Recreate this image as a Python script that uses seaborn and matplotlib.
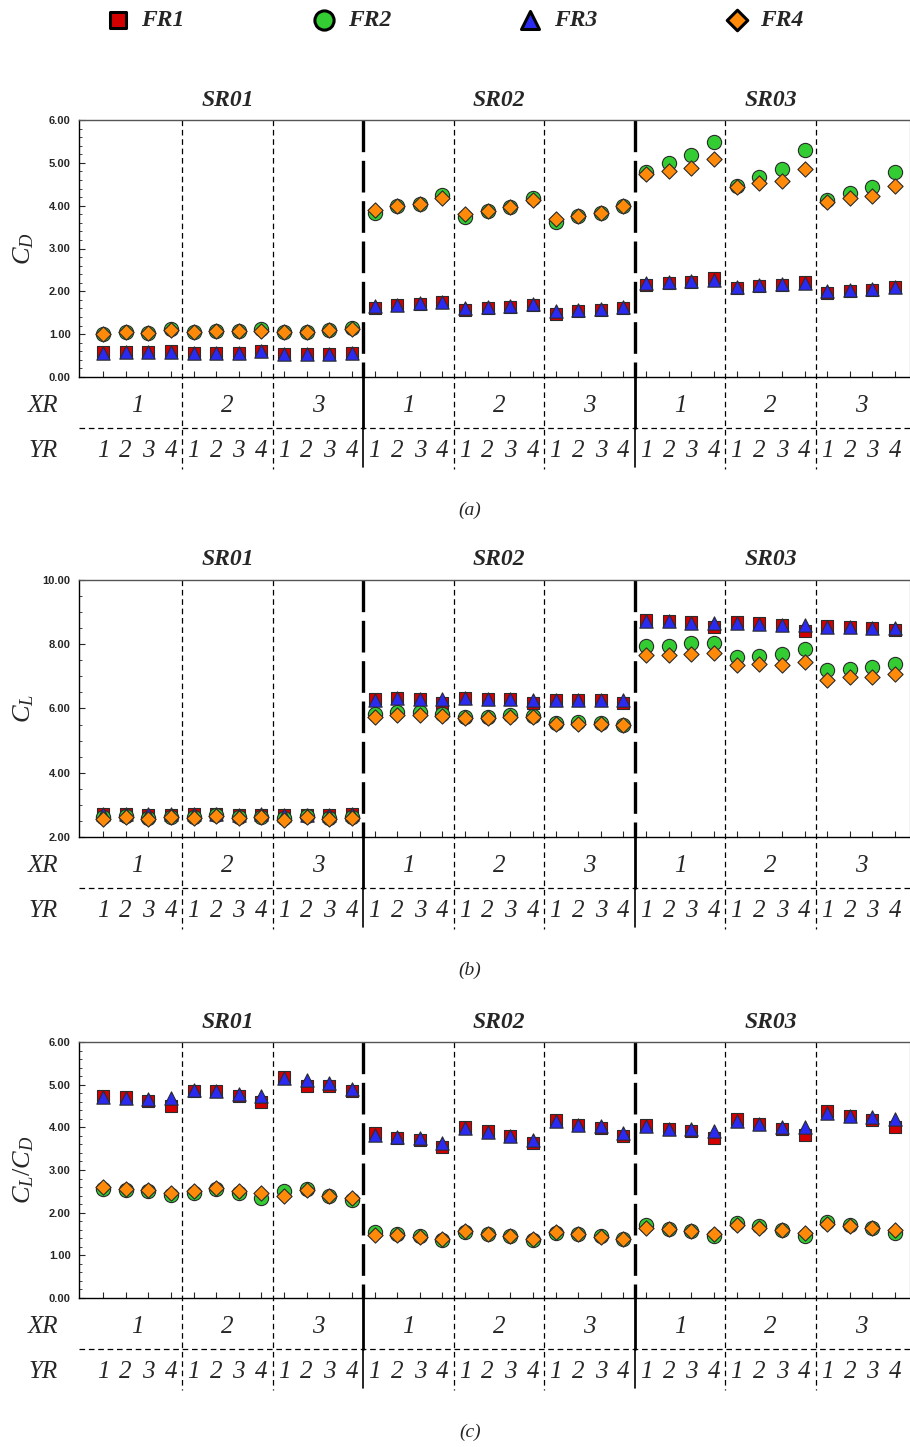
import numpy as np
import pandas as pd
import matplotlib
matplotlib.use("Agg")
import matplotlib.pyplot as plt
import seaborn as sns
from matplotlib import transforms
from matplotlib.ticker import MultipleLocator, FormatStrFormatter
from matplotlib.lines import Line2D

# ---------------- data ----------------
SR_LABELS = ["SR01", "SR02", "SR03"]
XR_LABELS = ["1", "2", "3"]
YR_LABELS = ["1", "2", "3", "4"]
FR_LABELS = ["FR1", "FR2", "FR3", "FR4"]

CD_FR1 = [0.58, 0.58, 0.58, 0.60, 0.56, 0.56, 0.57, 0.61, 0.53, 0.53, 0.53, 0.55,
          1.62, 1.68, 1.71, 1.76, 1.56, 1.61, 1.64, 1.69, 1.48, 1.54, 1.57, 1.62,
          2.15, 2.20, 2.22, 2.30, 2.08, 2.12, 2.14, 2.21, 1.96, 2.01, 2.04, 2.10]
CD_FR2 = [1.01, 1.05, 1.03, 1.12, 1.05, 1.07, 1.08, 1.13, 1.04, 1.04, 1.09, 1.15,
          3.84, 3.99, 4.04, 4.26, 3.73, 3.87, 3.97, 4.19, 3.61, 3.76, 3.84, 3.99,
          4.79, 4.99, 5.18, 5.49, 4.46, 4.68, 4.86, 5.30, 4.13, 4.29, 4.44, 4.79]
CD_FR3 = [0.57, 0.58, 0.58, 0.59, 0.56, 0.56, 0.57, 0.60, 0.53, 0.53, 0.53, 0.55,
          1.66, 1.69, 1.72, 1.76, 1.60, 1.63, 1.66, 1.70, 1.53, 1.56, 1.58, 1.64,
          2.19, 2.21, 2.23, 2.27, 2.11, 2.14, 2.16, 2.20, 2.00, 2.02, 2.06, 2.11]
CD_FR4 = [1.01, 1.05, 1.03, 1.09, 1.05, 1.07, 1.08, 1.08, 1.04, 1.04, 1.09, 1.11,
          3.90, 3.99, 4.04, 4.19, 3.80, 3.87, 3.97, 4.13, 3.69, 3.76, 3.84, 3.99,
          4.74, 4.81, 4.89, 5.09, 4.43, 4.54, 4.58, 4.85, 4.09, 4.17, 4.22, 4.47]

CL_FR1 = [2.71, 2.71, 2.70, 2.70, 2.71, 2.71, 2.70, 2.70, 2.70, 2.70, 2.68, 2.71,
          6.31, 6.33, 6.31, 6.18, 6.33, 6.29, 6.31, 6.18, 6.28, 6.28, 6.26, 6.16,
          8.75, 8.72, 8.68, 8.55, 8.70, 8.65, 8.60, 8.42, 8.57, 8.55, 8.52, 8.44]
CL_FR2 = [2.62, 2.64, 2.60, 2.62, 2.62, 2.67, 2.62, 2.62, 2.60, 2.64, 2.60, 2.62,
          5.84, 5.90, 5.90, 5.82, 5.74, 5.74, 5.79, 5.76, 5.55, 5.58, 5.55, 5.48,
          7.94, 7.95, 8.03, 8.03, 7.59, 7.63, 7.71, 7.84, 7.19, 7.23, 7.28, 7.37]
CL_FR3 = [2.71, 2.71, 2.72, 2.73, 2.71, 2.71, 2.70, 2.72, 2.68, 2.70, 2.68, 2.73,
          6.28, 6.33, 6.30, 6.30, 6.33, 6.29, 6.31, 6.28, 6.26, 6.26, 6.26, 6.26,
          8.72, 8.71, 8.67, 8.65, 8.67, 8.64, 8.60, 8.60, 8.55, 8.54, 8.52, 8.52]
CL_FR4 = [2.57, 2.62, 2.56, 2.62, 2.59, 2.66, 2.60, 2.62, 2.52, 2.62, 2.56, 2.60,
          5.74, 5.79, 5.79, 5.76, 5.69, 5.69, 5.74, 5.72, 5.51, 5.53, 5.51, 5.48,
          7.66, 7.68, 7.71, 7.73, 7.35, 7.37, 7.35, 7.45, 6.90, 6.97, 6.97, 7.07]

LD_FR1 = [4.74, 4.70, 4.61, 4.51, 4.86, 4.84, 4.74, 4.59, 5.17, 4.98, 4.96, 4.84,
          3.86, 3.75, 3.71, 3.54, 4.01, 3.91, 3.79, 3.63, 4.18, 4.06, 3.98, 3.80,
          4.06, 3.96, 3.91, 3.75, 4.20, 4.08, 3.97, 3.83, 4.38, 4.26, 4.18, 4.00]
LD_FR2 = [2.55, 2.54, 2.50, 2.42, 2.46, 2.55, 2.46, 2.34, 2.50, 2.55, 2.38, 2.30,
          1.54, 1.51, 1.45, 1.37, 1.54, 1.51, 1.45, 1.35, 1.52, 1.51, 1.45, 1.38,
          1.70, 1.62, 1.58, 1.45, 1.76, 1.68, 1.60, 1.46, 1.78, 1.70, 1.64, 1.52]
LD_FR3 = [4.70, 4.69, 4.66, 4.69, 4.88, 4.84, 4.77, 4.73, 5.15, 5.10, 5.05, 4.91,
          3.83, 3.77, 3.75, 3.63, 3.98, 3.90, 3.80, 3.71, 4.16, 4.06, 4.02, 3.87,
          4.02, 3.96, 3.95, 3.91, 4.14, 4.08, 4.01, 4.00, 4.34, 4.27, 4.24, 4.20]
LD_FR4 = [2.60, 2.56, 2.54, 2.46, 2.50, 2.58, 2.50, 2.45, 2.38, 2.52, 2.40, 2.34,
          1.48, 1.48, 1.44, 1.38, 1.56, 1.49, 1.46, 1.38, 1.54, 1.50, 1.43, 1.38,
          1.64, 1.62, 1.58, 1.51, 1.70, 1.63, 1.60, 1.52, 1.74, 1.68, 1.64, 1.59]

PANEL_SERIES = [
    [CD_FR1, CD_FR2, CD_FR3, CD_FR4],
    [CL_FR1, CL_FR2, CL_FR3, CL_FR4],
    [LD_FR1, LD_FR2, LD_FR3, LD_FR4],
]
PANEL_YLABELS = ["$C_D$", "$C_L$", "$C_L/C_D$"]
PANEL_CAPTIONS = ["(a)", "(b)", "(c)"]
PANEL_YLIMS = [(0, 6), (2, 10), (0, 6)]
PANEL_MAJOR = [1, 2, 1]
PANEL_MINOR = [0.2, 0.5, 0.2]

# ---------------- style ----------------
sns.set_style("ticks")
plt.rcParams["font.family"] = ["Liberation Serif", "DejaVu Serif"]
plt.rcParams["mathtext.fontset"] = "custom"
plt.rcParams["mathtext.it"] = "Liberation Serif:italic"
plt.rcParams["mathtext.rm"] = "Liberation Serif"
plt.rcParams["mathtext.bf"] = "Liberation Serif:bold:italic"

COLORS = {"FR1": "#d40000", "FR2": "#33cc33", "FR3": "#2a2af0", "FR4": "#ff8a0a"}
MARKERS = {"FR1": "s", "FR2": "o", "FR3": "^", "FR4": "D"}
SIZES = {"FR1": 68, "FR2": 105, "FR3": 92, "FR4": 60}

W, H = 910, 1447
fig = plt.figure(figsize=(W / 100, H / 100), dpi=100)

boxes = [(120, 377), (580, 837), (1042, 1298)]
AX_LEFT, AX_RIGHT = 79, 910
caption_y = [510, 970, 1432]

n = 36
idx = np.arange(n)
XLIM = (-1.06, 35.66)

thin_div = [3.5, 7.5, 15.5, 19.5, 27.5, 31.5]
thick_div = [11.5, 23.5]

axes = []
for p in range(3):
    top, bot = boxes[p]
    ax = fig.add_axes([AX_LEFT / W, 1 - bot / H, (AX_RIGHT - AX_LEFT) / W, (bot - top) / H])
    axes.append(ax)
    hpx = bot - top

    rows = []
    for fr, vals in zip(FR_LABELS, PANEL_SERIES[p]):
        for i, v in enumerate(vals):
            rows.append({"idx": i, "val": v, "FR": fr})
    df = pd.DataFrame(rows)

    for fr in FR_LABELS:
        sns.scatterplot(data=df[df["FR"] == fr], x="idx", y="val", ax=ax,
                        marker=MARKERS[fr], color=COLORS[fr], s=SIZES[fr],
                        edgecolor="#2b2b2b", linewidth=0.8, label=fr,
                        legend=(p == 0), zorder=3)

    ax.set_xlim(*XLIM)
    ax.set_ylim(*PANEL_YLIMS[p])
    ax.set_xlabel("")
    ax.set_ylabel(PANEL_YLABELS[p], fontsize=19, labelpad=0)
    ax.yaxis.set_label_coords((36 - AX_LEFT) / (AX_RIGHT - AX_LEFT), 0.5)

    ax.yaxis.set_major_locator(MultipleLocator(PANEL_MAJOR[p]))
    ax.yaxis.set_minor_locator(MultipleLocator(PANEL_MINOR[p]))
    ax.yaxis.set_major_formatter(FormatStrFormatter("%.2f"))
    ax.set_xticks(idx)
    ax.set_xticklabels([])
    ax.tick_params(axis="x", direction="in", length=4, width=0.8, bottom=True, top=False)
    ax.tick_params(axis="y", which="major", direction="in", length=4, width=0.8, pad=6)
    ax.tick_params(axis="y", which="minor", direction="in", length=2, width=0.6)
    for lab in ax.get_yticklabels():
        lab.set_fontfamily("Liberation Sans")
        lab.set_fontweight("bold")
        lab.set_fontsize(8)

    for s in ["left", "bottom"]:
        ax.spines[s].set_color("black")
        ax.spines[s].set_linewidth(1.0)
    ax.spines["top"].set_color("#555555")
    ax.spines["top"].set_linewidth(1.0)
    ax.spines["right"].set_color("#555555")

    trans = transforms.blended_transform_factory(ax.transData, ax.transAxes)
    def fy(px):
        return -px / hpx

    for xd in thin_div:
        ax.add_line(Line2D([xd, xd], [1.0, fy(92)], transform=trans, color="black",
                           lw=0.9, ls=(0, (4.5, 3.0)), clip_on=False, zorder=2))
    for xd in thick_div:
        ax.add_line(Line2D([xd, xd], [1.0, 0.0], transform=trans, color="black",
                           lw=2.4, ls=(0, (9.5, 2.6)), clip_on=False, zorder=2))
        ax.add_line(Line2D([xd, xd], [0.0, fy(51)], transform=trans, color="black",
                           lw=2.0, clip_on=False, zorder=2))
        ax.add_line(Line2D([xd, xd], [fy(51), fy(90)], transform=trans, color="black",
                           lw=1.2, clip_on=False, zorder=2))
    ax.add_line(Line2D([XLIM[0], XLIM[1]], [fy(51), fy(51)], transform=trans,
                       color="black", lw=0.9, ls=(0, (4.5, 3.0)), clip_on=False))

    for k, sr in enumerate(SR_LABELS):
        ax.text(12 * k + 5.5, 1 + 20 / hpx, sr, transform=trans, ha="center", va="center",
                fontsize=17, fontweight="bold", fontstyle="italic")
    for k in range(3):
        for j, xr in enumerate(XR_LABELS):
            ax.text(12 * k + 4 * j + 1.5, fy(29), xr, transform=trans, ha="center",
                    va="center", fontsize=18, fontstyle="italic")
            for m, yr in enumerate(YR_LABELS):
                ax.text(12 * k + 4 * j + m, fy(74), yr, transform=trans, ha="center",
                        va="center", fontsize=18, fontstyle="italic")
    fig.text(43 / W, 1 - (bot + 29) / H, "XR", ha="center", va="center",
             fontsize=18, fontstyle="italic")
    fig.text(43 / W, 1 - (bot + 74) / H, "YR", ha="center", va="center",
             fontsize=18, fontstyle="italic")
    fig.text(470 / W, 1 - caption_y[p] / H, PANEL_CAPTIONS[p], ha="center", va="center",
             fontsize=14, fontstyle="italic")

handles, labels = axes[0].get_legend_handles_labels()
axes[0].get_legend().remove()
leg = fig.legend(handles, labels, loc="center", bbox_to_anchor=(456 / W, 1 - 20 / H), ncol=4,
                 frameon=False, prop={"family": "Liberation Serif", "weight": "bold",
                                      "style": "italic", "size": 17},
                 handlelength=0.8, handletextpad=0.6, columnspacing=5.5, markerscale=1.35)
for h in leg.legend_handles:
    h.set_edgecolor("black")
    h.set_linewidth(2.2)

fig.savefig("out.png", dpi=100)
